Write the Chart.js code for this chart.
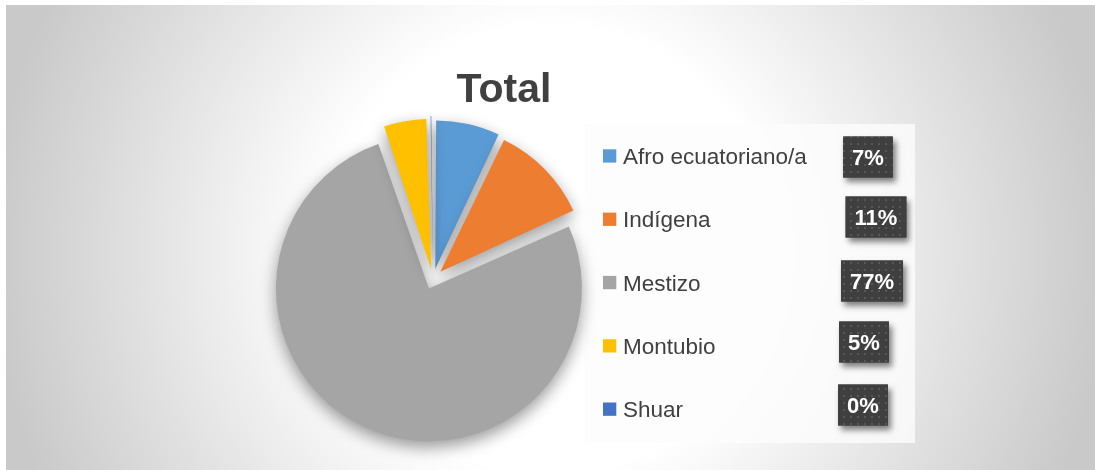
<!DOCTYPE html>
<html>
<head>
<meta charset="utf-8">
<title>Total</title>
<script src="https://cdn.jsdelivr.net/npm/chart.js@4.4.1/dist/chart.umd.min.js"></script>
<style>
    html, body { margin: 0; padding: 0; background: #fff; }
    .chart-wrap { position: relative; width: 1095px; height: 470px; }
</style>
</head>
<body>
<div class="chart-wrap"><canvas id="totalChart"></canvas></div>
<script>
// ==================== DATA ====================
const chartTitle = 'Total';
const labels = ['Afro ecuatoriano/a', 'Indígena', 'Mestizo', 'Montubio', 'Shuar'];
const values = [7.1, 11.1, 76.6, 4.8, 0.4];
const colors = ['#5b9bd5', '#ed7d31', '#a5a5a5', '#ffc000', '#4472c4'];

// ==================== LAYOUT ====================
const FONT = "'Liberation Sans', Arial, sans-serif";
const TEXT_COLOR = '#404040';
// Chart.js v4 shifts an arc by offset / 4 and grows its radius by the same amount
const SLICE_OFFSET = 41;
const PIE_RADIUS = 153 - SLICE_OFFSET / 4;
// percentage boxes were nudged by hand in the original, so each has its own centre
const labelBoxX = [868, 876, 872, 864, 863];
const labelBoxY = [157, 217, 281, 342, 405];
const legendTop = 156;
const legendStep = 63.3;

function dotPattern(ctx) {
    const tile = document.createElement('canvas');
    tile.width = 7;
    tile.height = 7;
    const t = tile.getContext('2d');
    t.fillStyle = '#3f3f3f';
    t.fillRect(0, 0, 7, 7);
    t.fillStyle = '#575757';
    t.fillRect(3, 3, 2, 2);
    return ctx.createPattern(tile, 'repeat');
}

const decorPlugin = {
    id: 'decor',
    beforeDraw(chart) {
        const c = chart.ctx;
        c.save();
        c.fillStyle = '#ffffff';
        c.fillRect(0, 0, chart.width, chart.height);

        const g = c.createRadialGradient(550, 250, 0, 550, 250, 560);
        g.addColorStop(0, '#ffffff');
        g.addColorStop(0.4, '#ffffff');
        g.addColorStop(1, '#c9c9c9');
        c.fillStyle = g;
        c.fillRect(6, 5, chart.width - 6, chart.height - 5);

        // legend panel
        c.fillStyle = 'rgba(252, 252, 252, 0.8)';
        c.fillRect(585, 124, 330, 319);
        c.restore();
    },
    beforeDatasetsDraw(chart) {
        const c = chart.ctx;
        c.save();
        c.shadowColor = 'rgba(0, 0, 0, 0.4)';
        c.shadowBlur = 16;
        c.shadowOffsetX = 0;
        c.shadowOffsetY = 6;
    },
    afterDatasetsDraw(chart) {
        chart.ctx.restore();
    },
    afterDraw(chart) {
        const c = chart.ctx;
        const total = values.reduce((a, b) => a + b, 0);
        c.save();

        // title
        c.fillStyle = TEXT_COLOR;
        c.font = 'bold 41px ' + FONT;
        c.textAlign = 'center';
        c.textBaseline = 'alphabetic';
        c.fillText(chartTitle, 504, 102);

        // legend
        c.textAlign = 'left';
        c.font = '22.5px ' + FONT;
        labels.forEach((label, i) => {
            const y = legendTop + i * legendStep;
            c.fillStyle = colors[i];
            c.fillRect(603, y - 6.7, 13.3, 13.3);
            c.fillStyle = TEXT_COLOR;
            c.fillText(label, 623, y + 8);
        });

        // percentage boxes
        const pattern = dotPattern(c);
        c.font = 'bold 22px ' + FONT;
        c.textAlign = 'center';
        values.forEach((v, i) => {
            const text = Math.round(v / total * 100) + '%';
            const w = c.measureText(text).width + 18;
            const h = 41;
            const x = labelBoxX[i] - w / 2;
            const y = labelBoxY[i] - h / 2;

            c.save();
            c.shadowColor = 'rgba(0, 0, 0, 0.5)';
            c.shadowBlur = 6;
            c.shadowOffsetX = 3;
            c.shadowOffsetY = 4;
            c.fillStyle = '#404040';
            c.fillRect(x, y, w, h);
            c.restore();

            c.fillStyle = pattern;
            c.fillRect(x, y, w, h);
            c.fillStyle = '#ffffff';
            c.fillText(text, labelBoxX[i], labelBoxY[i] + 8);
        });

        c.restore();
    }
};

new Chart(document.getElementById('totalChart'), {
    type: 'pie',
    data: {
        labels: labels,
        datasets: [{
            data: values,
            backgroundColor: colors,
            borderWidth: 0,
            offset: SLICE_OFFSET,
            radius: PIE_RADIUS
        }]
    },
    options: {
        responsive: true,
        maintainAspectRatio: false,
        animation: false,
        layout: {
            padding: { left: 270, right: 499, top: 100, bottom: 12 }
        },
        plugins: {
            legend: { display: false },
            title: { display: false },
            tooltip: { enabled: false }
        }
    },
    plugins: [decorPlugin]
});
</script>
</body>
</html>
